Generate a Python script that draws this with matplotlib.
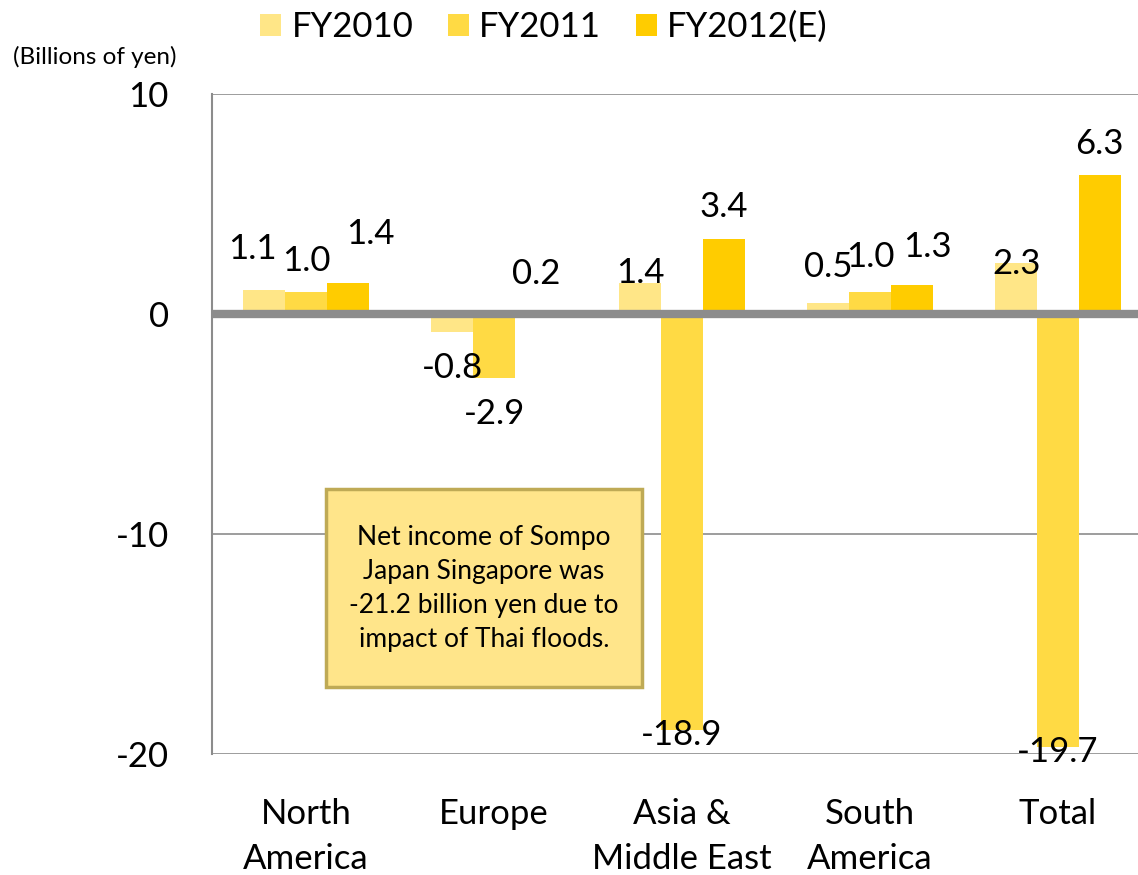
import numpy as np
import matplotlib
matplotlib.use("Agg")
import matplotlib.pyplot as plt
from matplotlib.patches import Rectangle

plt.rcParams['font.family'] = ['Lato', 'DejaVu Sans']

regions = ['North\nAmerica', 'Europe', 'Asia &\nMiddle East', 'South\nAmerica', 'Total']
series = ['FY2010', 'FY2011', 'FY2012(E)']
fy2010 = [1.1, -0.8, 1.4, 0.5, 2.3]
fy2011 = [1.0, -2.9, -18.9, 1.0, -19.7]
fy2012 = [1.4, 0.2, 3.4, 1.3, 6.3]
note = 'Net income of Sompo\nJapan Singapore was\n-21.2 billion yen due to\nimpact of Thai floods.'

colors = ['#FFE687', '#FFDA44', '#FFCC00']

# hand placed label nudges (series, region) -> (dx, dy) in pixels away from bar end
nudge = {
    (0, 0): (-12, 41), (1, 0): (0, 31), (2, 0): (23, 49),
    (2, 2): (0, 32), (0, 2): (0, 10), (1, 2): (0, 5),
    (1, 3): (0, 35), (2, 3): (16, 38),
    (0, 4): (0, -1), (2, 4): (0, 31), (1, 4): (0, 5),
}

fig = plt.figure(figsize=(11.38, 8.75), dpi=100)
W, H = 1138, 875
ax = fig.add_axes([212 / W, 1 - 754 / H, 1 - 212 / W, (754 - 94) / H])

x = np.arange(len(regions))
width = 0.222
offsets = [-width, 0, width]
for si, (vals, off, col, name) in enumerate(zip([fy2010, fy2011, fy2012], offsets, colors, series)):
    ax.bar(x + off, vals, width, color=col, label=name, zorder=2)
    for ri, (xi, v) in enumerate(zip(x + off, vals)):
        dx, dy = nudge.get((si, ri), (0, 36))
        if v < 0:
            dy = -dy
        ax.annotate(f'{v:.1f}', (xi, v), xytext=(dx, dy), textcoords='offset pixels',
                    ha='center', va='center', fontsize=25, zorder=4)

ax.set_ylim(-20, 10)
ax.set_xlim(-0.5, 4.5 - 14 / 188)
ax.set_yticks([-20, -10, 0, 10])
ax.set_yticklabels(['-20', '-10', '0', '10'])
ax.set_xticks(x)
ax.set_xticklabels(regions, linespacing=1.5)
ax.tick_params(axis='both', length=0, labelsize=25)
ax.tick_params(axis='y', pad=31)
ax.tick_params(axis='x', pad=32)

for yv in [-20, -10, 10]:
    ax.axhline(yv, color='#8C8C8C', lw=1.2, zorder=1)
ax.axhline(0, color='#8C8C8C', lw=6, zorder=3)

for s in ['top', 'right', 'bottom']:
    ax.spines[s].set_visible(False)
ax.spines['left'].set_color('#8C8C8C')
ax.spines['left'].set_linewidth(1.5)

fig.text(95 / W, 1 - 57 / H, '(Billions of yen)', ha='center', va='center', fontsize=17.5)

fig.legend(loc='center', bbox_to_anchor=(544 / W, 1 - 27 / H), ncol=3, frameon=False,
           fontsize=25, handlelength=0.6, handleheight=0.6, handletextpad=0.3,
           columnspacing=1.0)

# note box over the Europe / Asia area
fig.add_artist(Rectangle((326 / W, 1 - 687 / H), (642 - 326) / W, (687 - 489) / H,
                         transform=fig.transFigure, facecolor='#FFE58A',
                         edgecolor='#BFAA55', lw=2.5, zorder=5))
fig.text(484 / W, 1 - 588 / H, note, ha='center', va='center', fontsize=19,
         linespacing=1.45, zorder=6)

fig.savefig('out.png', dpi=100)
